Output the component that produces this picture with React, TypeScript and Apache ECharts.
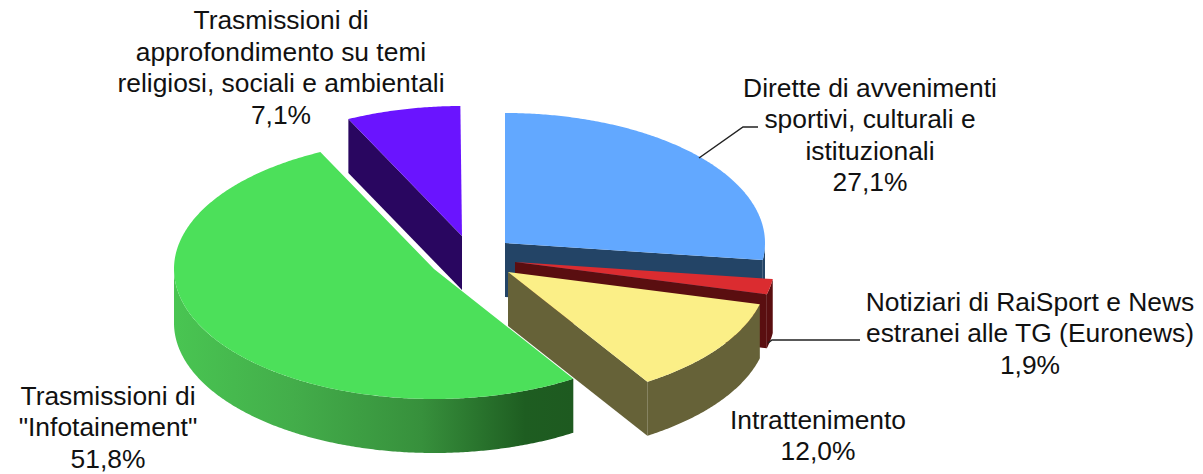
import React, { useEffect, useRef } from "react";
import * as echarts from "echarts";

const categories = [
  "Dirette di avvenimenti\nsportivi, culturali e\nistituzionali",
  "Notiziari di RaiSport e News\nestranei alle TG (Euronews)",
  "Intrattenimento",
  "Trasmissioni di\n\"Infotainement\"",
  "Trasmissioni di\napprofondimento su temi\nreligiosi, sociali e ambientali",
];
const values = [27.1, 1.9, 12.0, 51.8, 7.1];
const valueLabels = ["27,1%", "1,9%", "12,0%", "51,8%", "7,1%"];

const topColors = ["#62A8FF", "#DB2C30", "#FBEF87", "#4CE05A", "#6A14FF"];
const sideColors = ["#234466", "#5A0E10", "#666238", "#1E5A20", "#290660"];
const drawOrder = [1, 2, 3, 4, 0];
const apexX = [505, 515, 508, 434, 462];
const apexY = [243, 262, 272, 269, 236];
const labelX = [870, 1030, 818, 108, 281];
const labelY = [72, 286, 404, 380, 4.5];

const RX = 260;
const RY = 130;
const DEPTH = 54;
const LINE = 31.5;
const FONT = "26.4px 'Liberation Sans', Arial, sans-serif";

const point = (cx: number, cy: number, deg: number, dy = 0) => {
  const a = (deg * Math.PI) / 180;
  return [cx + RX * Math.sin(a), cy - RY * Math.cos(a) + dy];
};

const arc = (cx: number, cy: number, a0: number, a1: number, dy = 0) => {
  const pts: number[][] = [];
  const n = Math.max(2, Math.ceil(Math.abs(a1 - a0) * 2));
  for (let i = 0; i <= n; i++) pts.push(point(cx, cy, a0 + ((a1 - a0) * i) / n, dy));
  return pts;
};

const renderSlice = (params: any, api: any) => {
  const i = params.dataIndex;
  const v = api.value(0);
  let before = 0;
  for (let k = 0; k < i; k++) before += values[k];
  const a0 = before * 3.6;
  const a1 = (before + v) * 3.6;
  const cx = apexX[i];
  const cy = apexY[i];
  const z = drawOrder[i] * 10;
  const side = i === 3
    ? new echarts.graphic.LinearGradient(0, 0, 1, 0, [
        { offset: 0, color: "#49C552" },
        { offset: 0.3, color: "#43AD4A" },
        { offset: 0.62, color: "#37903C" },
        { offset: 0.88, color: "#1E5D21" },
        { offset: 1, color: "#1E5A20" },
      ])
    : sideColors[i];
  const children: any[] = [];
  const face = (deg: number) => {
    const p = point(cx, cy, deg);
    children.push({
      type: "polygon",
      z2: z,
      shape: { points: [[cx, cy], p, [p[0], p[1] + DEPTH], [cx, cy + DEPTH]] },
      style: { fill: sideColors[i] },
    });
  };
  if (a1 < 180) face(a1);
  if (a0 > 180) face(a0);
  const r0 = Math.max(a0, 90);
  const r1 = Math.min(a1, 270);
  if (r1 > r0) {
    children.push({
      type: "polygon",
      z2: z + 1,
      shape: { points: [...arc(cx, cy, r0, r1), ...arc(cx, cy, r1, r0, DEPTH)] },
      style: { fill: side },
    });
  }
  children.push({
    type: "polygon",
    z2: z + 2,
    shape: { points: [[cx, cy], ...arc(cx, cy, a0, a1)] },
    style: { fill: topColors[i] },
  });
  children.push({
    type: "text",
    z2: 100,
    style: {
      text: `${categories[i]}\n${valueLabels[i]}`,
      x: labelX[i],
      y: labelY[i],
      align: "center",
      verticalAlign: "top",
      textAlign: "center",
      textVerticalAlign: "top",
      font: FONT,
      lineHeight: LINE,
      fill: "#111111",
    },
  });
  return { type: "group", children };
};

export default function App() {
  const ref = useRef<HTMLDivElement>(null);
  useEffect(() => {
    const chart = echarts.init(ref.current!, undefined, { renderer: "svg" });
    chart.setOption({
      animation: false,
      backgroundColor: "#ffffff",
      graphic: [
        {
          type: "polyline",
          z: 5,
          shape: { points: [[699, 158], [743, 127], [758, 127]] },
          style: { stroke: "#222222", lineWidth: 1.5, fill: "none" },
        },
        {
          type: "polyline",
          z: 5,
          shape: { points: [[768, 343], [772, 340], [860, 340]] },
          style: { stroke: "#222222", lineWidth: 1.5, fill: "none" },
        },
      ],
      series: [
        {
          type: "custom",
          coordinateSystem: "none",
          silent: true,
          z: 1,
          renderItem: renderSlice,
          data: values.map((v) => [v]),
        },
      ],
    });
    return () => chart.dispose();
  }, []);
  return <div ref={ref} style={{ position: "absolute", left: 0, top: 0, width: 1203, height: 474 }} />;
}
